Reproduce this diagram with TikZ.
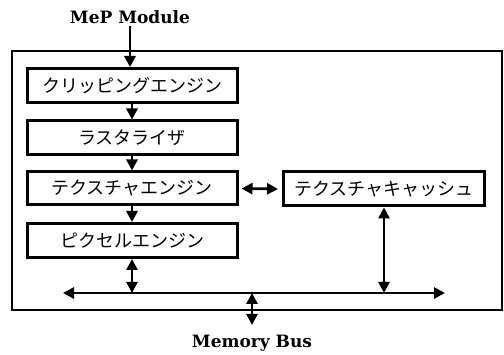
\documentclass[tikz,border=0pt]{standalone}
\usepackage{fontspec}
\newfontfamily\jpfont{Noto Sans CJK JP}
\newfontfamily\labelfont{DejaVu Serif}
\usetikzlibrary{arrows.meta}
\tikzset{
  unitbox/.style={draw, line width=3pt, minimum height=34pt, inner sep=0pt,
    font=\jpfont\fontsize{18}{20}\selectfont},
  tip/.tip={Triangle[length=11pt,width=11pt]},
  flow/.style={line width=2.8pt, -tip},
  both/.style={line width=2.8pt, tip-tip},
  lbl/.style={font=\labelfont\bfseries\fontsize{17}{20}\selectfont, inner sep=2pt}
}
\begin{document}
\begin{tikzpicture}[x=1pt, y=-1pt]
  \useasboundingbox (0,0) rectangle (504,355);
  % enclosing unit
  \draw[line width=1.4pt] (12,51) rectangle (502,310);
  % pipeline stages
  \node[unitbox, minimum width=210pt] (clip) at (132,85.5) {クリッピングエンジン};
  \node[unitbox, minimum width=210pt] (rast) at (132,138) {ラスタライザ};
  \node[unitbox, minimum width=210pt, minimum height=33pt] (tex) at (132,188.5) {テクスチャエンジン};
  \node[unitbox, minimum width=210pt] (pix) at (132,240.5) {ピクセルエンジン};
  \node[unitbox, minimum width=201pt] (cache) at (384,189) {テクスチャキャッシュ};
  % labels
  \node[lbl] (mep) at (130,17) {MeP Module};
  \node[lbl] (mem) at (252,343) {Memory Bus};
  % bus
  \coordinate (busL) at (63,293);
  \coordinate (busR) at (445,293);
  \coordinate (memTop) at (252,293);
  \coordinate (memBot) at (252,325);
  % connectors
  \draw[flow] (mep.south) -- (clip.north -| mep.south);
  \draw[flow] (clip.south) -- (rast.north);
  \draw[flow] (rast.south) -- (tex.north);
  \draw[flow] (tex.south) -- (pix.north);
  \draw[both] ([xshift=3pt]tex.east) -- ([xshift=-4pt]cache.west);
  \draw[both] (busL) -- (busR);
  \draw[both] (pix.south) -- (pix.south |- busL);
  \draw[both] (cache.south) -- (cache.south |- busL);
  \draw[both] (memTop) -- (memBot);
\end{tikzpicture}
\end{document}
